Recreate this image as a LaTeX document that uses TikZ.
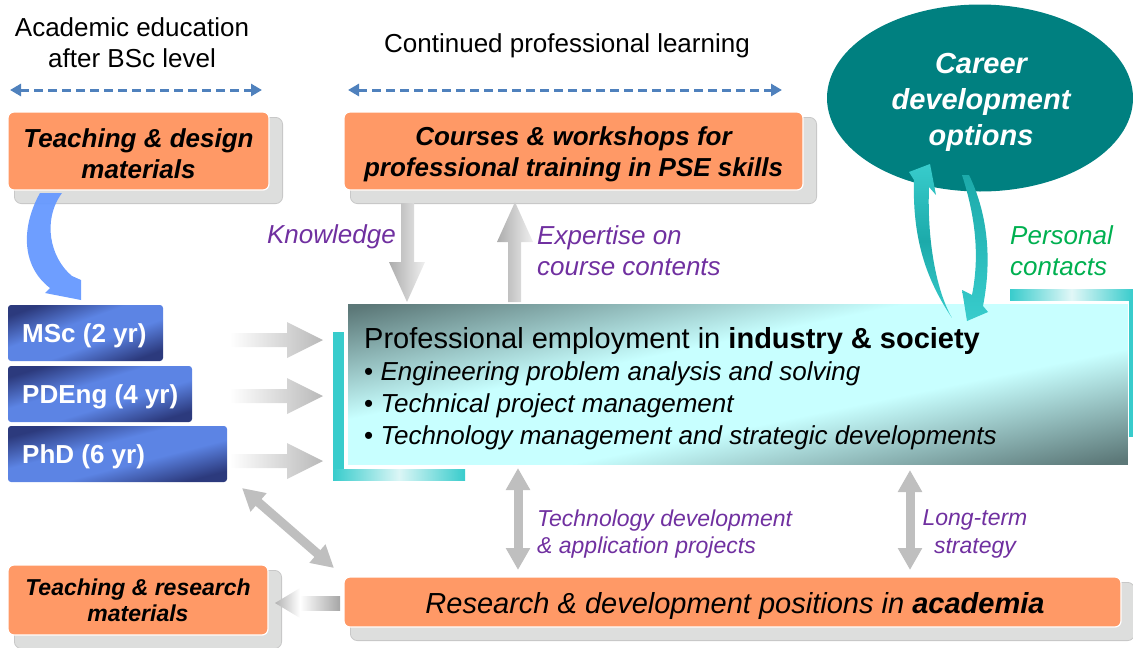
\documentclass[tikz,border=0pt]{standalone}
\usepackage{fontspec}
\setmainfont{Liberation Sans}
\usetikzlibrary{arrows.meta,shapes.geometric,calc}
\definecolor{orangebox}{RGB}{255,153,102}
\definecolor{shadowgrey}{RGB}{221,222,221}
\definecolor{shadowline}{RGB}{200,200,200}
\definecolor{tealell}{RGB}{0,128,128}
\definecolor{purplelab}{RGB}{112,48,160}
\definecolor{greenlab}{RGB}{0,176,80}
\definecolor{dashblue}{RGB}{79,129,189}
\definecolor{bluelight}{RGB}{92,132,228}
\definecolor{bluedark}{RGB}{44,58,125}
\definecolor{arrowgrey}{RGB}{191,191,191}
\definecolor{tealbar}{RGB}{56,204,204}
\definecolor{tealdeep}{RGB}{28,170,170}
\definecolor{slate}{RGB}{92,120,120}
\definecolor{lightcyan}{RGB}{200,255,255}
\definecolor{curveblue}{RGB}{102,153,255}
\newcommand{\myfs}[2]{\fontsize{#1}{#2}\selectfont}
\pgfdeclareverticalshading{bluediag}{100bp}{color(0bp)=(bluedark); color(30bp)=(bluedark); color(44bp)=(bluelight); color(56bp)=(bluelight); color(70bp)=(bluedark); color(100bp)=(bluedark)}
\pgfdeclareverticalshading{empdiag}{100bp}{color(0bp)=(slate); color(26bp)=(slate); color(43bp)=(lightcyan); color(57bp)=(lightcyan); color(74bp)=(slate); color(100bp)=(slate)}
% diagonal gradient: dark at top-left and bottom-right, light along the other diagonal
% #1 x0, #2 y0 (top), #3 width, #4 height, #5 shading, #6 corner radius
\newcommand{\diagfill}[6]{%
  \pgfmathsetmacro{\dglen}{100*sqrt((#3/100)^2+(#4/100)^2)}%
  \pgfmathsetmacro{\dgd}{(#3/\dglen)*(#4)}%
  \pgfmathsetmacro{\dgang}{atan2(#4,#3)}%
  \begin{scope}
  \clip[rounded corners=#6] (#1,#2) rectangle ++(#3,#4);
  \begin{scope}[transform canvas={shift={({#1+#3/2},{#2+#4/2})}, rotate=\dgang}]
  \shade[shading=#5] ({-\dglen/2-6},{-\dgd}) rectangle ({\dglen/2+6},{\dgd});
  \end{scope}
  \end{scope}}
\pgfdeclarelayer{bg}
\pgfsetlayers{bg,main}
\tikzset{
  obox/.style={rounded corners=6pt, fill=orangebox, draw=white, line width=1.2pt, inner sep=0pt},
  otext/.style={inner sep=0pt, align=center, font=\myfs{26}{31}\bfseries\itshape},
  shadowbox/.style={rounded corners=7pt, fill=shadowgrey, draw=shadowline, line width=0.8pt},
  bbox/.style={inner sep=0pt, minimum height=56pt, anchor=north west},
  btext/.style={text=white, font=\myfs{26}{31}\bfseries, inner sep=0pt, anchor=west},
  plab/.style={text=purplelab, font=\myfs{26}{31}\itshape, inner sep=0pt},
  splab/.style={text=purplelab, font=\myfs{23}{27.5}\itshape, inner sep=0pt},
  toplab/.style={font=\myfs{26}{31}, inner sep=0pt, align=center},
  dashdbl/.style={draw=dashblue, line width=3pt, dash pattern=on 9pt off 5pt, {Triangle[width=12pt,length=11pt]}-{Triangle[width=12pt,length=11pt]}},
  greydbl/.style={draw=arrowgrey, line width=9pt, {Triangle[width=23pt,length=22pt]}-{Triangle[width=23pt,length=22pt]}},
}
\begin{document}
\begin{tikzpicture}[x=1pt,y=-1pt]
\useasboundingbox (0,0) rectangle (1133,648);

% top labels
\node[toplab] (acad) at (132,43) {Academic education\\after BSc level};
\node[toplab] (cont) at (567,46) {Continued professional learning};
\coordinate (da1) at (10,90); \coordinate (da2) at (262,90);
\coordinate (db1) at (348,90); \coordinate (db2) at (782,90);
\draw[dashdbl] (da1) -- (da2);
\draw[dashdbl] (db1) -- (db2);

% orange boxes
\node[obox, minimum width=261pt, minimum height=78pt] (teachd) at (138.5,151) {};
\node[otext] (teachdt) at (138.5,154) {Teaching \& design\\materials};
\node[obox, minimum width=459pt, minimum height=78pt] (courses) at (573.5,151) {};
\node[otext] (coursest) at (573.5,154) {Courses \& workshops for\\professional training in PSE skills};
\node[obox, minimum width=260pt, minimum height=70pt] (teachr) at (138,600) {};
\node[otext, font=\myfs{23}{26}\bfseries\itshape] (teachrt) at (138,600) {Teaching \& research\\materials};
\node[obox, minimum width=777pt, minimum height=50pt] (research) at (732.5,602) {};
\node[inner sep=0pt, font=\myfs{29}{32}\itshape] (researcht) at (735,606) {Research \& development positions in \textbf{academia}};
\begin{pgfonlayer}{bg}
\foreach \b in {teachd,courses,teachr,research}
  \draw[shadowbox] ($(\b.north west)+(7,6)$) rectangle ($(\b.south east)+(13,13)$);
\end{pgfonlayer}

% career ellipse
\node[ellipse, fill=tealell, minimum width=306pt, minimum height=187pt, inner sep=0pt] (career) at (980,98) {};
\node[text=white, align=center, inner sep=0pt, font=\myfs{29}{36}\bfseries\itshape] (careert) at (981,102) {Career\\development\\options};

% teal bars
\fill[tealbar] (333,332) rectangle (344,480);
\shade[left color=tealbar, right color=tealbar, middle color=tealbar!18] (333,469) rectangle (465,480);
\shade[left color=tealbar, right color=tealbar, middle color=tealbar!15] (1010,289) rectangle (1133,300);
\fill[tealbar] (1129,300) rectangle (1133,437);

% main box
\diagfill{347}{303}{781}{162}{empdiag}{0pt}
\node[draw=white, line width=1pt, minimum width=781pt, minimum height=162pt, inner sep=0pt] (emp) at (737.5,384) {};
\node[anchor=north west, align=left, inner sep=0pt, font=\myfs{26}{32}] (emptext) at (364,327)
 {{\myfs{29}{32}Professional employment in \textbf{industry \& society}}\\
  \textbullet\ \textit{Engineering problem analysis and solving}\\
  \textbullet\ \textit{Technical project management}\\
  \textbullet\ \textit{Technology management and strategic developments}};

% blue boxes
\diagfill{8}{305}{155}{56}{bluediag}{3pt}
\diagfill{8}{366}{184}{56}{bluediag}{3pt}
\diagfill{8}{426}{219}{56}{bluediag}{3pt}
\node[bbox, minimum width=155pt] (msc) at (8,305) {};
\node[btext] (msct) at ($(msc.west)+(14,3)$) {MSc (2 yr)};
\node[bbox, minimum width=184pt] (pdeng) at (8,366) {};
\node[btext] (pdengt) at ($(pdeng.west)+(14,3)$) {PDEng (4 yr)};
\node[bbox, minimum width=219pt] (phd) at (8,426) {};
\node[btext] (phdt) at ($(phd.west)+(14,3)$) {PhD (6 yr)};

% arrows from blue boxes
\foreach \c in {340,396,461}
  \shade[left color=white, right color=gray!55] (230,\c-7) -- (287,\c-7) -- (287,\c-18) -- (323,\c) -- (287,\c+18) -- (287,\c+7) -- (230,\c+7) -- cycle;

% knowledge / expertise arrows
\shade[left color=gray!65, right color=gray!12] (401,203) -- (414,203) -- (414,262) -- (425,262) -- (407,302) -- (389,262) -- (401,262) -- cycle;
\shade[left color=gray!65, right color=gray!12] (508,302) -- (508,242) -- (497,242) -- (515,202) -- (533,242) -- (521,242) -- (521,302) -- cycle;
\node[plab, anchor=east] (know) at (396,237) {Knowledge};
\node[plab, anchor=west, align=left] (expert) at (537,251) {Expertise on\\course contents};

% blue curved arrow
\fill[curveblue, opacity=0.95] (40,193) .. controls (22,225) and (20,265) .. (50,288) -- (45,293) -- (81,300) -- (81,280) -- (72,276) .. controls (50,258) and (42,220) .. (62,193) -- cycle;

% teal curved arrows
\shade[top color=tealbar, bottom color=tealbar, middle color=tealdeep] (952,318) .. controls (930,285) and (912,245) .. (914,180) -- (909,172) -- (930,164) -- (936,195) -- (929,187) .. controls (927,240) and (936,290) .. (952,318) -- cycle;
\shade[top color=tealdeep, bottom color=tealbar] (962,175) .. controls (975,215) and (980,255) .. (972,295) -- (962,290) -- (967,321) -- (988,312) -- (983,306) .. controls (993,255) and (986,210) .. (969,175) -- cycle;
\node[anchor=west, align=left, inner sep=0pt, text=greenlab, font=\myfs{26}{31}\itshape] (pers) at (1010,251) {Personal\\contacts};

% bottom left arrow (research -> teaching materials)
\shade[left color=white, right color=gray!70] (300,596) -- (340,596) -- (340,610) -- (300,610) -- cycle;
\shade[left color=gray!60, right color=white] (300,588) -- (275,603) -- (300,618) -- cycle;

% grey double arrows
\coordinate (v1a) at (518,468); \coordinate (v1b) at (518,570);
\coordinate (v2a) at (910,470); \coordinate (v2b) at (910,570);
\coordinate (g1) at (242,488); \coordinate (g2) at (334,568);
\draw[greydbl] (v1a) -- (v1b);
\draw[greydbl] (v2a) -- (v2b);
\draw[greydbl] (g1) -- (g2);
\node[splab, anchor=west, align=left] (techdev) at (537,534) {Technology development\\\& application projects};
\node[splab, align=center] (longterm) at (975,534) {Long-term\\strategy};
\end{tikzpicture}
\end{document}
